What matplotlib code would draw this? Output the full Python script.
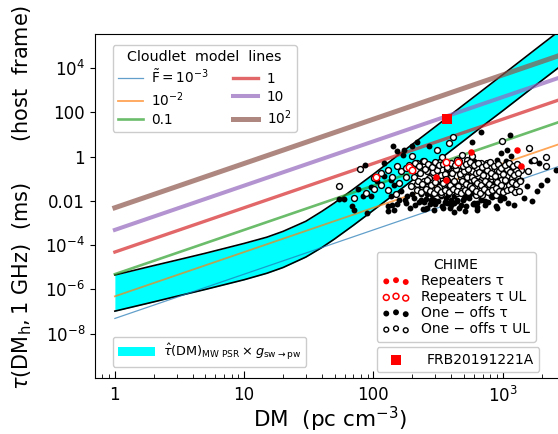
import numpy as np
import matplotlib
matplotlib.use("Agg")
import matplotlib.pyplot as plt
from matplotlib.patches import Patch

# ---------------- data ----------------
# cloudlet model lines (straight lines in log-log): endpoints
F_labels = [r"$\tilde{\rm F} = 10^{-3}$", r"$10^{-2}$", "0.1", "1", "10", r"$10^2$"]
line_dm = [1.0, 3000.0]
line_tau_start = [4.9e-8, 4.9e-7, 4.9e-6, 4.9e-5, 4.9e-4, 4.9e-3]
line_tau_end = [4.4e-1, 4.4e0, 4.4e1, 4.4e2, 4.4e3, 4.4e4]

# MW pulsar band (upper/lower edges)
band_dm = [1, 2, 3, 5, 10, 15, 20, 30, 40, 50, 70, 100, 150, 200, 300, 500, 700, 1000, 2000, 3000]
band_hi = [4.5e-6, 1.2e-5, 2.1e-5, 4.3e-5, 1.2e-4, 2.3e-4, 4.2e-4, 1.2e-3, 3.4e-3, 8.1e-3,
           3.4e-2, 1.6e-1, 1.0, 3.6, 22.0, 220.0, 1.0e3, 5.0e3, 1.15e5, 7.1e5]
band_lo = [1.05e-7, 2.75e-7, 4.9e-7, 1.0e-6, 2.75e-6, 5.4e-6, 9.8e-6, 2.9e-5, 7.9e-5, 1.9e-4,
           7.9e-4, 3.8e-3, 2.3e-2, 8.5e-2, 0.52, 5.2, 24.0, 117.0, 2.7e3, 1.66e4]

# CHIME one-offs tau (log10 DM, log10 tau)
oneoff_logdm = [2.830, 3.057, 2.761, 2.341, 2.155, 2.186, 2.233, 2.302, 2.431, 1.934,
                1.735, 1.769, 1.882, 1.838, 1.851, 1.949, 1.923, 1.980, 2.109, 2.147,
                2.186, 2.243, 2.109, 2.397, 2.542, 2.624, 2.715, 2.805, 2.959, 3.088,
                3.165, 3.230, 3.269, 3.346, 3.410, 3.294, 2.985, 2.908, 3.062, 2.934,
                3.036, 3.062, 3.024, 2.908, 2.882, 3.088, 3.140, 3.217, 3.282, 2.830,
                2.779, 2.727, 2.676, 2.624, 2.573, 2.521, 2.470, 2.418, 2.367, 2.315,
                2.263, 2.212, 2.160, 2.135, 2.083, 2.031, 1.980, 2.830, 2.753, 2.702,
                2.650, 2.599, 2.676, 2.727, 2.779, 2.882, 3.114, 3.191, 2.444, 2.573,
                2.495, 2.624, 2.083, 2.135, 2.959, 2.985, 2.856, 2.805, 2.418, 2.225,
                2.550, 2.600, 2.690, 2.740, 2.480, 2.390, 2.300, 2.660, 2.860, 2.930,
                2.32, 2.35, 2.38, 2.41, 2.44, 2.47, 2.50, 2.53, 2.56, 2.59,
                2.62, 2.65, 2.68, 2.71, 2.74, 2.77, 2.80, 2.83, 2.86, 2.89,
                2.92, 2.95, 2.98, 3.01, 3.04, 2.37, 2.45, 2.52, 2.58, 2.66,
                2.72, 2.78, 2.84, 2.90, 2.96, 3.02, 2.28, 2.25, 2.20, 2.16,
                2.60, 2.70, 2.85, 2.50, 2.95, 2.40, 3.00, 2.75]
oneoff_logtau = [1.101, 0.995, 0.648, 0.648, 0.467, 0.241, 0.317, 0.467, 0.467, -0.362,
                 -1.916, -1.916, -1.463, -2.217, -2.398, -2.549, -1.765, -1.795, -2.247, -2.172,
                 -2.127, -1.946, -2.474, -2.368, -2.323, -2.519, -2.247, -2.097, -2.323, -2.172,
                 -1.870, -2.021, -1.569, -1.041, -0.589, -1.267, -1.719, -1.795, -1.418, -1.192,
                 0.317, 0.015, -0.211, -0.287, -0.664, -0.740, -1.041, -0.211, -0.287, -0.589,
                 -0.211, -0.513, -0.815, -1.418, -1.569, -1.795, -1.946, -1.674, -1.946, -1.870,
                 -1.765, -1.569, -1.267, -1.041, -0.860, -1.116, -1.373, -1.946, -1.644, -1.870,
                 -2.021, -1.946, -1.644, -1.192, -2.097, -1.494, -1.192, -1.343, -1.946, -2.097,
                 -1.644, -1.795, -0.287, -1.795, -0.136, 0.166, -1.192, -2.398, -2.323, 0.091,
                 -2.050, -2.200, -1.980, -1.720, -2.150, -2.050, -1.700, -2.300, -2.000, -1.600,
                 -2.20, -2.05, -2.35, -1.90, -2.15, -2.40, -2.00, -2.25, -1.85, -2.30,
                 -2.10, -1.95, -2.20, -2.45, -1.88, -2.12, -2.28, -1.92, -2.18, -2.05,
                 -1.82, -2.22, -1.98, -1.86, -2.10, -1.70, -1.75, -1.68, -1.72, -1.62,
                 -1.78, -1.66, -1.74, -1.60, -1.80, -1.55, -2.30, -2.10, -1.95, -2.40,
                 -1.00, -0.55, -0.75, -0.45, -0.95, -1.20, -0.60, -1.30]

# CHIME one-offs tau upper limits
oneoff_ul_logdm = [1.735, 1.897, 1.851, 1.941, 2.006, 2.057, 2.109, 2.173, 2.199, 2.212,
                   2.250, 2.276, 2.302, 2.341, 2.380, 2.392, 2.418, 2.457, 2.495, 2.495,
                   2.534, 2.573, 2.599, 2.612, 2.624, 2.650, 2.676, 2.702, 2.727, 2.753,
                   2.779, 2.805, 2.830, 2.856, 2.882, 2.908, 2.934, 2.959, 2.985, 2.998,
                   3.011, 3.036, 3.062, 3.088, 3.114, 3.140, 3.197, 3.204, 3.243, 3.333,
                   3.338, 2.315, 2.341, 2.367, 2.418, 2.470, 2.521, 2.573, 2.702, 2.830,
                   2.650, 2.689, 2.766, 2.534, 2.586, 2.186, 2.250, 2.444, 2.483, 2.624,
                   2.663, 2.715, 2.766, 2.818, 2.869, 2.895, 2.946, 2.972, 3.024, 3.075,
                   3.101, 3.127, 2.740, 2.792, 2.843, 2.895, 2.946, 2.547, 2.599, 2.392,
                   2.289, 2.147, 2.109, 2.057, 2.006, 2.998, 2.779, 2.727, 2.676, 2.882,
                   2.33, 2.36, 2.40, 2.43, 2.46, 2.49, 2.52, 2.55, 2.58, 2.61,
                   2.64, 2.67, 2.70, 2.73, 2.76, 2.79, 2.82, 2.85, 2.88, 2.91,
                   2.94, 2.97, 3.00, 3.03, 3.06, 3.09, 3.12,
                   2.345, 2.375, 2.415, 2.445, 2.475, 2.505, 2.535, 2.565, 2.595, 2.625,
                   2.655, 2.685, 2.715, 2.745, 2.775, 2.805, 2.835, 2.865, 2.895, 2.925,
                   2.955, 2.985, 3.015, 3.045, 3.075, 3.105, 3.135,
                   2.32, 2.35, 2.39, 2.42, 2.45, 2.48, 2.51, 2.54, 2.57, 2.60,
                   2.63, 2.66, 2.69, 2.72, 2.75, 2.78, 2.81, 2.84, 2.87, 2.90,
                   2.93, 2.96, 2.99, 3.02, 3.05, 3.08, 3.11,
                   2.335, 2.365, 2.405, 2.435, 2.465, 2.495, 2.525, 2.555, 2.585, 2.615,
                   2.645, 2.675, 2.705, 2.735, 2.765, 2.795, 2.825, 2.855, 2.885, 2.915,
                   2.945, 2.975, 3.005, 3.035, 3.065, 3.095, 3.125]
oneoff_ul_logtau = [-1.312, -0.559, -1.870, -1.644, -1.463, -1.267, -1.524, -1.674, -1.192, -0.664,
                    -0.513, -0.362, 0.015, -0.287, -0.211, -0.438, -0.664, -0.815, 0.317, -1.041,
                    -1.222, -0.559, -0.920, 0.890, -1.373, -1.644, -0.920, -0.438, -0.136, -1.041,
                    -1.373, -0.860, -0.287, -0.513, -1.161, -0.860, -1.463, -0.589, -1.071, 0.694,
                    -1.343, -0.890, -0.438, -1.222, -0.920, -0.619, -0.664, 0.392, -0.136, -0.015,
                    -0.408, -0.920, -1.222, -1.524, -1.373, -1.524, -1.674, -1.071, -1.373, -1.524,
                    -0.166, 0.091, 0.045, -0.015, 0.618, -0.438, -0.920, -0.362, -0.513, -0.438,
                    -0.664, -0.815, -0.664, -1.161, -0.890, -0.513, -1.041, -1.312, -1.116, -0.966,
                    -0.619, -1.116, -1.494, -1.719, -1.719, -1.494, -1.719, -1.418, -1.267, -1.116,
                    -1.343, -0.920, -0.589, -0.740, -0.966, -1.569, -1.041, -0.920, -1.192, -0.287,
                    -0.62, -0.75, -0.55, -0.95, -0.70, -0.60, -0.85, -0.78, -0.50, -0.72,
                    -0.58, -0.80, -0.65, -0.55, -0.90, -0.75, -0.68, -0.82, -0.60, -0.72,
                    -0.88, -0.66, -0.78, -0.58, -0.70, -0.84, -0.76,
                    -1.10, -1.25, -1.05, -1.30, -1.15, -1.38, -1.20, -1.02, -1.28, -1.12,
                    -1.35, -1.08, -1.22, -1.32, -1.06, -1.18, -1.28, -1.10, -1.24, -1.36,
                    -1.14, -1.26, -1.04, -1.30, -1.16, -1.22, -1.12,
                    -0.30, -0.42, -0.20, -0.35, -0.48, -0.25, -0.40, -0.32, -0.45, -0.28,
                    -0.38, -0.22, -0.44, -0.34, -0.26, -0.40, -0.30, -0.46, -0.36, -0.24,
                    -0.42, -0.32, -0.50, -0.38, -0.28, -0.44, -0.35,
                    -1.50, -1.60, -1.45, -1.55, -1.65, -1.48, -1.58, -1.52, -1.62, -1.46,
                    -1.56, -1.66, -1.50, -1.60, -1.44, -1.54, -1.64, -1.48, -1.58, -1.52,
                    -1.42, -1.56, -1.62, -1.50, -1.46, -1.58, -1.54]

# CHIME repeaters
rep_logdm = [3.114, 3.140, 2.753, 2.483, 2.560]
rep_logtau = [0.317, -0.438, 0.211, -0.920, -1.041]
rep_ul_logdm = [2.019, 2.276, 2.297, 2.565, 2.658]
rep_ul_logtau = [-0.936, -0.483, -0.589, -0.241, -0.241]

# FRB 20191221A
frb_dm = [370.0]
frb_tau = [52.0]

# ---------------- plot ----------------
fig = plt.figure(figsize=(5.58, 4.34), dpi=100)
ax = fig.add_axes([0.170, 0.129, 0.8414, 0.793])

ax.fill_between(band_dm, band_lo, band_hi, color="cyan", lw=0, zorder=1)
ax.plot(band_dm, band_lo, color="k", lw=1.2, zorder=2)
ax.plot(band_dm, band_hi, color="k", lw=1.2, zorder=2)

colors = ["tab:blue", "tab:orange", "tab:green", "tab:red", "tab:purple", "tab:brown"]
lws = [0.9, 1.3, 1.9, 2.4, 2.9, 3.6]
line_handles = []
for c, lw, t0, t1, lab in zip(colors, lws, line_tau_start, line_tau_end, F_labels):
    h, = ax.plot(line_dm, [t0, t1], color=c, lw=lw, alpha=0.7, zorder=3, label=lab)
    line_handles.append(h)

ms = 18
ax.scatter(10 ** np.array(oneoff_logdm), 10 ** np.array(oneoff_logtau), s=ms, c="k", lw=0, zorder=4)
ax.scatter(10 ** np.array(oneoff_ul_logdm), 10 ** np.array(oneoff_ul_logtau), s=ms, facecolors="white",
           edgecolors="k", lw=1.0, zorder=5)
ax.scatter(10 ** np.array(rep_logdm), 10 ** np.array(rep_logtau), s=ms + 4, c="red", lw=0, zorder=6)
ax.scatter(10 ** np.array(rep_ul_logdm), 10 ** np.array(rep_ul_logtau), s=ms + 4, facecolors="white",
           edgecolors="red", lw=1.1, zorder=6)
ax.scatter(frb_dm, frb_tau, marker="s", s=55, c="red", lw=0, zorder=7)

ax.set_xscale("log")
ax.set_yscale("log")
ax.set_xlim(0.7, 3000)
ax.set_ylim(1e-10, 3.5e5)

ax.set_xticks([1, 10, 100, 1000])
ax.set_xticklabels(["1", "10", "100", r"$10^3$"])
ax.set_yticks([1e-8, 1e-6, 1e-4, 1e-2, 1, 100, 1e4])
ax.set_yticklabels([r"$10^{-8}$", r"$10^{-6}$", r"$10^{-4}$", "0.01", "1", "100", r"$10^4$"])
ax.yaxis.set_minor_locator(matplotlib.ticker.NullLocator())
ax.tick_params(axis="x", which="both", direction="in", labelsize=12, pad=6)
ax.tick_params(axis="y", which="both", direction="out", labelsize=12)
ax.tick_params(axis="x", which="major", length=5)
ax.tick_params(axis="x", which="minor", length=3)

ax.set_xlabel(r"DM  (pc cm$^{-3}$)", fontsize=15.5, labelpad=-1.5)
ax.set_ylabel(r"$\tau({\rm DM_h}, 1\ {\rm GHz})\ \ ({\rm ms})\ \ \ \ \ \ ({\rm host\ \ frame})$",
              fontsize=15)
ax.yaxis.set_label_coords(-0.130, 0.525)

# legends
leg1 = ax.legend(handles=line_handles, labels=F_labels, ncol=2, title="Cloudlet  model  lines",
                 loc="upper left", bbox_to_anchor=(0.038, 0.968), borderaxespad=0,
                 fontsize=9.8, title_fontsize=10.3, handlelength=1.8, handletextpad=0.65,
                 columnspacing=1.8, labelspacing=0.3, framealpha=1)
ax.add_artist(leg1)

band_h = Patch(facecolor="cyan", edgecolor="none")
leg2 = ax.legend(handles=[band_h], labels=[r"$\hat{\tau}({\rm DM})_{\rm MW\ PSR} \times g_{\rm sw\to pw}$"],
                 loc="lower left", bbox_to_anchor=(0.038, 0.032), borderaxespad=0,
                 fontsize=9.3, handlelength=2.9, handletextpad=0.6, framealpha=1)
ax.add_artist(leg2)

h_rep = ax.scatter([], [], s=ms, c="red", lw=0)
h_rep_ul = ax.scatter([], [], s=ms, facecolors="white", edgecolors="red", lw=1.1)
h_one = ax.scatter([], [], s=ms, c="k", lw=0)
h_one_ul = ax.scatter([], [], s=ms - 6, facecolors="white", edgecolors="k", lw=1.0)
leg3 = ax.legend(handles=[h_rep, h_rep_ul, h_one, h_one_ul],
                 labels=["Repeaters τ", "Repeaters τ UL", "One − offs τ", "One − offs τ UL"],
                 title="CHIME", loc="upper left", bbox_to_anchor=(0.600, 0.365), borderaxespad=0,
                 scatterpoints=3, fontsize=10, title_fontsize=10, labelspacing=0.15,
                 handletextpad=0.8, framealpha=1)
ax.add_artist(leg3)

h_frb = ax.scatter([], [], marker="s", s=55, c="red", lw=0)
leg4 = ax.legend(handles=[h_frb], labels=["FRB20191221A"], loc="lower left",
                 bbox_to_anchor=(0.600, 0.017), borderaxespad=0, fontsize=10,
                 scatterpoints=1, handlelength=2.0, handletextpad=1.2, framealpha=1)

fig.savefig("out.png", dpi=100)
